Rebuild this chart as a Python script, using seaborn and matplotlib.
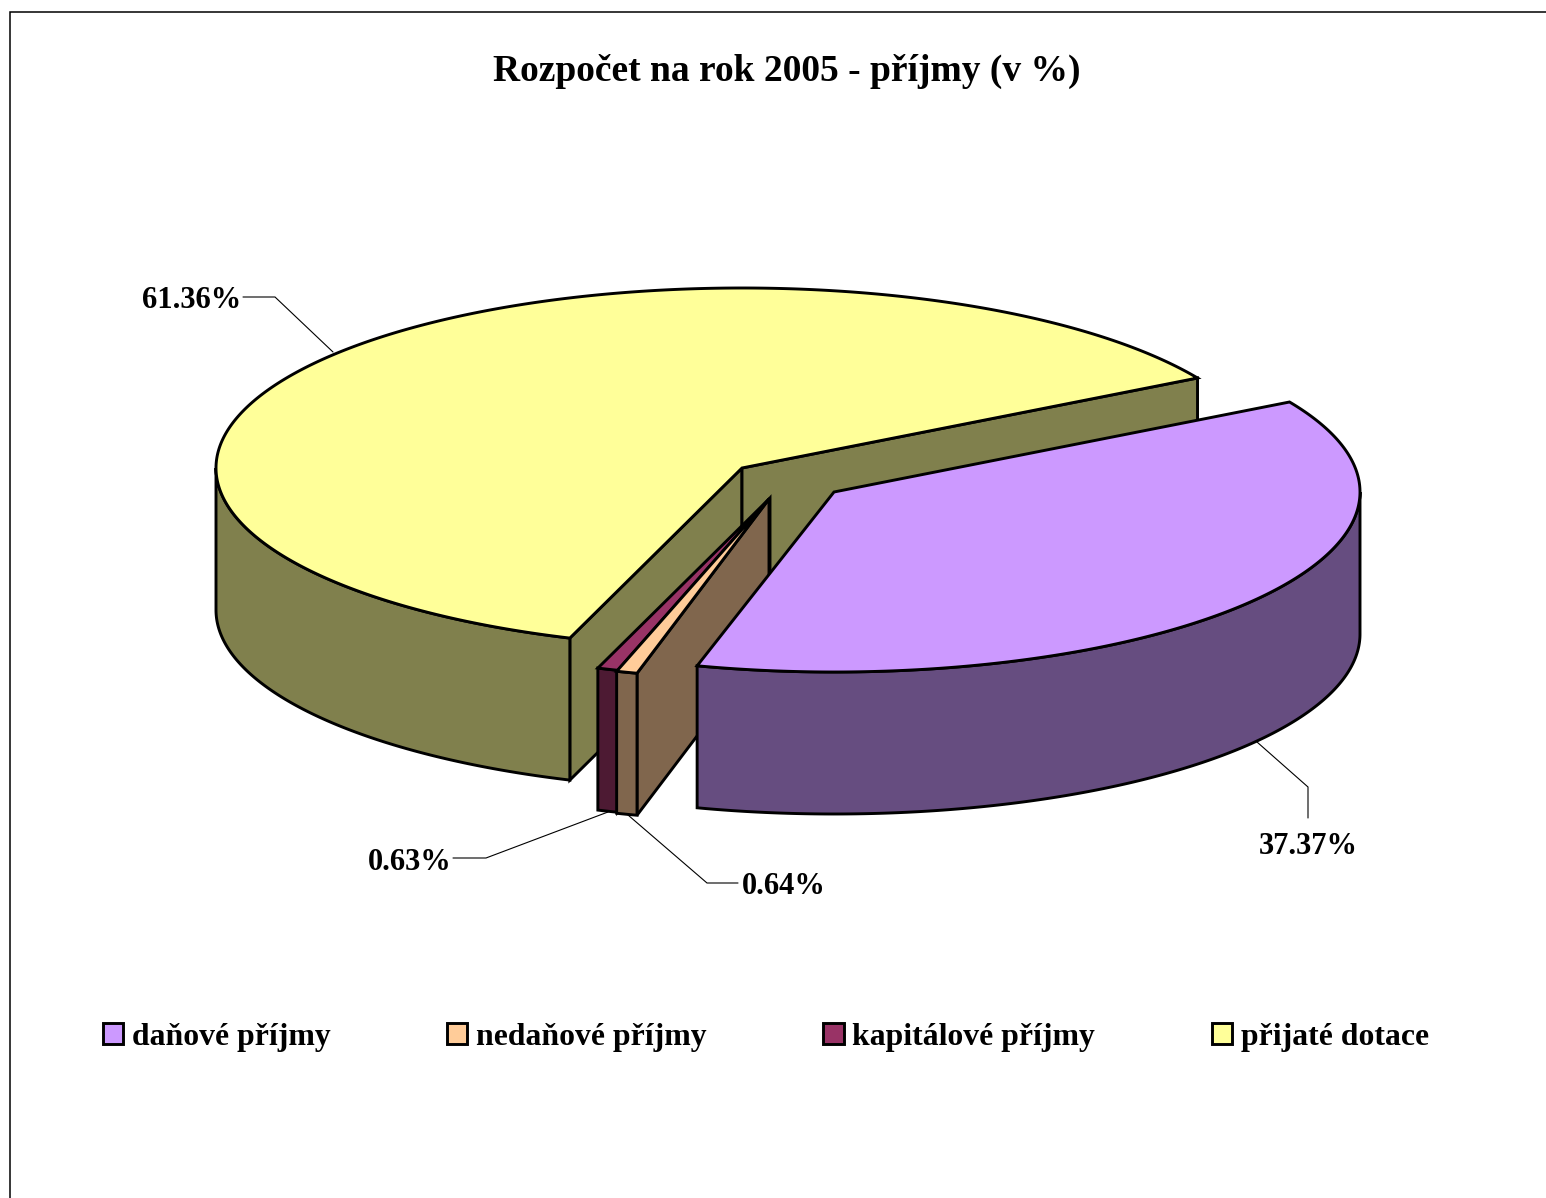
import numpy as np
import matplotlib
matplotlib.use('Agg')
import matplotlib.pyplot as plt
from matplotlib.patches import Patch
import seaborn as sns

categories = ['daňové příjmy', 'nedaňové příjmy', 'kapitálové příjmy', 'přijaté dotace']
values = [37.37, 0.64, 0.63, 61.36]
colors = ['#CC99FF', '#FFCC99', '#993366', '#FFFF99']
title = 'Rozpočet na rok 2005 - příjmy (v %)'

# slice centres after the explosion, in pixels
centres = [(834, 492), (769, 499), (770, 498), (742, 468)]
label_pos = [(1308, 846), (784, 886), (410, 862), (192, 300)]
leaders = [
    [(1257, 742), (1308, 787), (1308, 818)],
    [(628, 815), (707, 883), (738, 883)],
    [(608, 812), (486, 858), (453, 858)],
    [(333, 352), (275, 297), (243, 297)],
]

RX, RY, DEPTH = 526, 180, 142
START = 30.0
LW = 2.1
# the 3D projection opens the front edge of the big exploded slice a bit more
EDGE_NUDGE = 0.55

sns.set_theme(style='white')
plt.rcParams['font.family'] = ['Liberation Serif', 'DejaVu Serif']
palette = sns.color_palette(colors)
shades = [tuple(c * 0.5 for c in col) for col in palette]

fig = plt.figure(figsize=(15.46, 11.98), dpi=100)
ax = fig.add_axes([0, 0, 1, 1])
ax.set_xlim(0, 1546)
ax.set_ylim(1198, 0)
ax.axis('off')


def rim(c, a0, a1):
    a = np.radians(np.linspace(a0, a1, max(int(abs(a1 - a0)) * 2, 2) + 1))
    return c[0] + RX * np.cos(a), c[1] - RY * np.sin(a)


def face(xs, ys, color):
    ax.fill(xs, ys, facecolor=color, edgecolor='black', linewidth=LW, joinstyle='miter')


def radial(c, ang, color):
    x, y = rim(c, ang, ang)
    x, y = x[0], y[0]
    face([c[0], x, x, c[0]], [c[1], y, y + DEPTH, c[1] + DEPTH], color)


def outer(c, a0, a1, color):
    # only the front half of the rim can be seen
    a0, a1 = max(a0, -180), min(a1, 0)
    if a1 <= a0:
        return
    x, y = rim(c, a0, a1)
    face(np.r_[x, x[::-1]], np.r_[y, y[::-1] + DEPTH], color)


def top(c, a0, a1, color):
    x, y = rim(c, a0, a1)
    face(np.r_[c[0], x], np.r_[c[1], y], color)


# slice angles, clockwise from START
ends = START - np.cumsum(values) * 3.6
starts = np.r_[START, ends[:-1]]
spans = list(zip(ends, starts))

# back to front: dotace, kapitalove, nedanove, danove
a0, a1 = spans[3]
c = centres[3]
radial(c, a1, shades[3])
radial(c, a0, shades[3])
outer(c, -180, a1, shades[3])
top(c, a0, a1, palette[3])

for i in (2, 1):
    a0, a1 = spans[i]
    c = centres[i]
    radial(c, a1, shades[i])
    outer(c, a0, a1, shades[i])
    top(c, a0, a1, palette[i])

a0, a1 = spans[0]
c = centres[0]
outer(c, a0 - EDGE_NUDGE, a1, shades[0])
top(c, a0 - EDGE_NUDGE, a1, palette[0])

for pts, val, pos in zip(leaders, values, label_pos):
    ax.plot(*zip(*pts), color='black', lw=0.8, solid_joinstyle='miter')
    ax.text(pos[0], pos[1], f'{val:.2f}%', ha='center', va='center',
            fontsize=22, fontweight='bold', color='black')

ax.text(787, 71, title, ha='center', va='center', fontsize=27, fontweight='bold', color='black')

# chart frame, cut off by the right and bottom edge of the image
ax.plot([10, 10, 1546], [1198, 12, 12], color='black', lw=1.1, solid_joinstyle='miter')

handles = [Patch(facecolor=col, edgecolor='black', linewidth=LW, label=cat)
           for col, cat in zip(palette, categories)]
leg = ax.legend(handles=handles, ncol=4, loc='center left', bbox_to_anchor=(103 / 1546, 1 - 1037 / 1198),
                frameon=False, prop={'size': 22.9, 'weight': 'bold'}, labelcolor='black',
                handlelength=0.63, handleheight=0.63,
                handletextpad=0.28, columnspacing=3.67, borderpad=0, borderaxespad=0)

fig.savefig('out.png', dpi=100, facecolor='white')
